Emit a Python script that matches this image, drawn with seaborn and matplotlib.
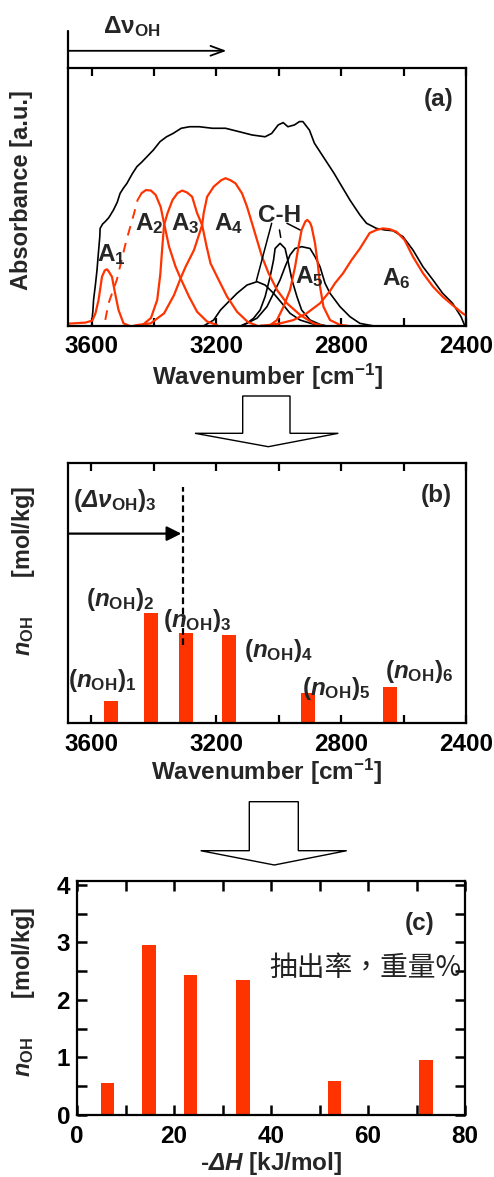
import numpy as np
import pandas as pd
import matplotlib
matplotlib.use("Agg")
import matplotlib.pyplot as plt
import matplotlib.transforms as mtransforms
from matplotlib.patches import Polygon
import seaborn as sns

# ---------------- data ----------------
# panel (a): measured spectrum (wavenumber, absorbance in axis fraction)
total_wn = [3600, 3596, 3594, 3588, 3583, 3578, 3574, 3573, 3565, 3557, 3545, 3530, 3518,
            3509, 3498, 3487, 3470, 3455, 3440, 3424, 3402, 3381, 3360, 3339, 3313, 3286,
            3255, 3213, 3171, 3128, 3086, 3044, 3023, 3002, 2986, 2971, 2950, 2934, 2923,
            2902, 2886, 2865, 2844, 2823, 2804, 2772, 2740, 2719, 2687, 2660, 2634, 2602,
            2570, 2538, 2506, 2475, 2443, 2416, 2405]
total_abs = [0.01, 0.06, 0.10, 0.16, 0.216, 0.29, 0.346, 0.378, 0.395, 0.404, 0.42, 0.45, 0.48,
             0.514, 0.535, 0.553, 0.59, 0.618, 0.635, 0.655, 0.683, 0.715, 0.734, 0.747, 0.767,
             0.773, 0.773, 0.767, 0.767, 0.754, 0.741, 0.734, 0.747, 0.780, 0.789, 0.773, 0.780,
             0.793, 0.793, 0.760, 0.709, 0.670, 0.631, 0.592, 0.553, 0.488, 0.43, 0.398, 0.378,
             0.372, 0.369, 0.346, 0.294, 0.229, 0.178, 0.126, 0.087, 0.035, 0.003]

# O-H component bands A1..A6
a1_wn = [3675, 3620, 3598, 3588, 3578, 3567, 3558, 3551, 3545, 3535, 3525, 3514, 3498, 3480]
a1_abs = [0.008, 0.012, 0.02, 0.048, 0.10, 0.19, 0.215, 0.219, 0.21, 0.19, 0.126, 0.061, 0.009, 0.0]
a2_wn = [3560, 3546, 3519, 3490, 3464, 3453, 3440, 3426, 3410, 3395, 3379, 3368, 3352, 3331,
         3315, 3288, 3262, 3230, 3198]
a2_abs = [0.0, 0.087, 0.18, 0.326, 0.437, 0.488, 0.515, 0.527, 0.525, 0.508, 0.462, 0.398, 0.307,
          0.229, 0.184, 0.113, 0.054, 0.016, 0.003]
a3_wn = [3440, 3410, 3390, 3380, 3374, 3368, 3357, 3341, 3325, 3310, 3295, 3278, 3262, 3246,
         3232, 3219, 3193, 3166, 3134, 3100, 3070]
a3_abs = [0.0, 0.03, 0.10, 0.2, 0.30, 0.391, 0.437, 0.488, 0.515, 0.525, 0.518, 0.501, 0.437,
          0.391, 0.31, 0.242, 0.178, 0.113, 0.054, 0.015, 0.0]
a4_wn = [3465, 3453, 3411, 3368, 3336, 3315, 3299, 3272, 3246, 3241, 3230, 3209, 3185, 3171,
         3155, 3139, 3118, 3102, 3086, 3070, 3054, 3033, 3006, 2974, 2932, 2889, 2860]
a4_abs = [0.0, 0.003, 0.009, 0.048, 0.119, 0.184, 0.229, 0.294, 0.391, 0.437, 0.501, 0.54, 0.565,
          0.573, 0.565, 0.553, 0.514, 0.462, 0.398, 0.333, 0.268, 0.204, 0.139, 0.087, 0.042,
          0.009, 0.0]
a5_wn = [3030, 3006, 2985, 2964, 2948, 2937, 2927, 2915, 2909, 2900, 2895, 2884, 2874, 2868,
         2857, 2836, 2804, 2780]
a5_abs = [0.0, 0.022, 0.074, 0.139, 0.229, 0.307, 0.372, 0.405, 0.411, 0.40, 0.385, 0.32, 0.229,
          0.152, 0.074, 0.022, 0.003, 0.0]
a6_wn = [3060, 3030, 2996, 2953, 2911, 2868, 2836, 2820, 2794, 2767, 2740, 2709, 2687, 2666,
         2645, 2623, 2597, 2570, 2538, 2506, 2475, 2443, 2411, 2400]
a6_abs = [0.0, 0.003, 0.009, 0.022, 0.048, 0.087, 0.135, 0.165, 0.204, 0.255, 0.30, 0.36, 0.372,
          0.378, 0.375, 0.365, 0.333, 0.268, 0.204, 0.152, 0.113, 0.080, 0.048, 0.04]

# C-H bands
ch1_wn = [3240, 3209, 3187, 3166, 3134, 3102, 3070, 3044, 3017, 2990, 2964, 2932, 2900, 2870]
ch1_abs = [0.0, 0.022, 0.061, 0.087, 0.126, 0.158, 0.171, 0.158, 0.126, 0.087, 0.048, 0.022,
           0.01, 0.0]
ch2_wn = [3120, 3102, 3081, 3060, 3044, 3028, 3017, 3012, 2996, 2980, 2969, 2958, 2942, 2927,
          2900, 2868, 2850]
ch2_abs = [0.0, 0.01, 0.029, 0.061, 0.113, 0.19, 0.255, 0.30, 0.32, 0.30, 0.242, 0.178, 0.113,
           0.061, 0.022, 0.005, 0.0]
ch3_wn = [3120, 3102, 3070, 3038, 3017, 2996, 2980, 2964, 2948, 2927, 2900, 2884, 2868, 2852,
          2836, 2804, 2772, 2740, 2700]
ch3_abs = [0.0, 0.01, 0.029, 0.074, 0.126, 0.178, 0.229, 0.275, 0.30, 0.307, 0.30, 0.268, 0.229,
           0.165, 0.126, 0.074, 0.035, 0.009, 0.0]

# panel (b): n_OH of each band vs wavenumber
band_labels = ["1", "2", "3", "4", "5", "6"]
wn_b = [3538, 3410, 3297, 3160, 2905, 2644]
nOH_b = [0.38, 1.92, 1.57, 1.53, 0.53, 0.63]

# panel (c): n_OH vs -dH
dH_c = [6.3, 14.8, 23.4, 34.2, 53.1, 71.9]
nOH_c = [0.55, 2.96, 2.43, 2.34, 0.59, 0.95]

wn_ticks = [3600, 3400, 3200, 3000, 2800, 2600, 2400]
wn_ticklabels = ["3600", "", "3200", "", "2800", "", "2400"]

# ---------------- style ----------------
sns.set_style("ticks")
RED = "#ff3300"
plt.rcParams.update({
    "font.family": ["Liberation Sans", "DejaVu Sans"],
    "font.weight": "bold",
    "axes.labelweight": "bold",
    "mathtext.fontset": "custom",
    "mathtext.rm": "Liberation Sans:bold",
    "mathtext.it": "Liberation Sans:italic:bold",
    "mathtext.bf": "Liberation Sans:bold",
    "mathtext.sf": "Liberation Sans:italic:bold",
    "axes.linewidth": 1.6,
    "axes.edgecolor": "black",
    "xtick.direction": "in",
    "ytick.direction": "in",
    "xtick.top": True,
    "ytick.right": True,
    "xtick.color": "black",
    "ytick.color": "black",
})

W, H = 494, 1177
fig = plt.figure(figsize=(W / 100, H / 100), dpi=100)


def fbox(l, t, r, b):
    return [l / W, 1 - b / H, (r - l) / W, (b - t) / H]


axA = fig.add_axes(fbox(68.3, 68.3, 466, 325.7))
axB = fig.add_axes(fbox(68, 462.7, 466, 723.3))
axC = fig.add_axes(fbox(77, 880.7, 465, 1115))

FS_TICK = 17.5
FS_LAB = 17.5
FS_YLAB = 16.8
FS_IN = 17.5
NOH_LABEL = r"$n_{\mathrm{OH}}$" + " " * 6 + "[mol/kg]"

# ---------------- panel (a) ----------------
sns.lineplot(x=total_wn, y=total_abs, ax=axA, color="black", lw=1.2, estimator=None)
for wn, ab in [(ch1_wn, ch1_abs), (ch2_wn, ch2_abs), (ch3_wn, ch3_abs)]:
    sns.lineplot(x=wn, y=ab, ax=axA, color="black", lw=1.2, estimator=None)
for wn, ab in [(a1_wn, a1_abs), (a3_wn, a3_abs), (a4_wn, a4_abs), (a5_wn, a5_abs), (a6_wn, a6_abs)]:
    sns.lineplot(x=wn, y=ab, ax=axA, color=RED, lw=1.6, estimator=None)
# A2: left flank drawn broken as in the original
sns.lineplot(x=a2_wn[:7], y=a2_abs[:7], ax=axA, color=RED, lw=1.4, estimator=None,
             linestyle=(0, (5, 4)))
sns.lineplot(x=a2_wn[6:], y=a2_abs[6:], ax=axA, color=RED, lw=1.6, estimator=None)

axA.set_xlim(3675, 2400)
axA.set_ylim(0, 1)
axA.set_yticks([])
axA.set_xticks(wn_ticks)
axA.set_xticklabels(wn_ticklabels, fontsize=FS_TICK, fontweight="bold")
axA.tick_params(axis="x", length=6, width=1.6, pad=7)
axA.set_xlabel(r"Wavenumber [cm$^{\mathrm{-1}}$]", fontsize=FS_LAB, fontweight="bold")
axA.xaxis.set_label_coords(0.5, -0.14)
axA.set_ylabel("Absorbance [a.u.]", fontsize=17, fontweight="bold")
axA.yaxis.set_label_coords(-0.089, 0.527)

for txt, x, y in [(r"$\mathrm{A}_1$", 3538, 0.275), (r"$\mathrm{A}_2$", 3416, 0.398),
                  (r"$\mathrm{A}_3$", 3299, 0.398), (r"$\mathrm{A}_4$", 3161, 0.398),
                  (r"$\mathrm{A}_5$", 2902, 0.19), (r"$\mathrm{A}_6$", 2625, 0.184)]:
    axA.text(x, y, txt, ha="center", va="center", fontsize=FS_IN)
axA.text(2998, 0.43, "C-H", ha="center", va="center", fontsize=FS_IN)
for (x0, y0), (x1, y1) in [((3023, 0.398), (3072, 0.175)),
                           ((2998, 0.372), (2994, 0.343)),
                           ((2974, 0.398), (2932, 0.372))]:
    axA.annotate("", xy=(x1, y1), xytext=(x0, y0),
                 arrowprops=dict(arrowstyle="-", lw=1.1, color="black", shrinkA=0, shrinkB=0))
axA.text(0.93, 0.877, "(a)", transform=axA.transAxes, ha="center", va="center", fontsize=FS_IN)

transA = mtransforms.blended_transform_factory(axA.transData, axA.transAxes)
axA.plot([3675, 3675], [1.0, 1.145], transform=transA, clip_on=False, color="black", lw=1.6)
axA.annotate("", xy=(3168, 1.068), xytext=(3675, 1.068), xycoords=transA, textcoords=transA,
             arrowprops=dict(arrowstyle="->,head_length=0.6,head_width=0.22", lw=1.3,
                             color="black", shrinkA=0, shrinkB=0, mutation_scale=16),
             annotation_clip=False)
axA.text(3563, 1.137, r"$\mathrm{Δν}_{\mathrm{OH}}$", transform=transA, ha="left",
         va="baseline", fontsize=FS_IN)

# ---------------- panel (b) ----------------
df_b = pd.DataFrame({"wn": wn_b, "n": nOH_b})
wb = 44.0 / np.min(np.diff(np.sort(wn_b)))
sns.barplot(data=df_b, x="wn", y="n", native_scale=True, orient="x", width=wb, color=RED,
            saturation=1, errorbar=None, linewidth=0, ax=axB)
axB.set_xlim(3675, 2400)
axB.set_ylim(0, 4.52)
axB.set_yticks([])
axB.set_xticks(wn_ticks)
axB.set_xticklabels(wn_ticklabels, fontsize=FS_TICK, fontweight="bold")
axB.tick_params(axis="x", length=6, width=1.6, pad=7)
axB.set_xlabel(r"Wavenumber [cm$^{\mathrm{-1}}$]", fontsize=FS_LAB, fontweight="bold")
axB.xaxis.set_label_coords(0.5, -0.13)
axB.set_ylabel(NOH_LABEL, fontsize=FS_YLAB, fontweight="bold")
axB.yaxis.set_label_coords(-0.077, 0.584)

axB.plot([3307, 3307], [1.36, 4.1], color="black", lw=1.6, ls=(0, (3, 1.6)))
axB.annotate("", xy=(3312, 3.29), xytext=(3675, 3.29),
             arrowprops=dict(arrowstyle="-|>", lw=1.6, color="black", shrinkA=0, shrinkB=0,
                             mutation_scale=22))
axB.text(3658, 3.75, r"$(\mathsf{Δν}_{\mathrm{OH}})_3$", ha="left", va="baseline", fontsize=FS_IN)
axB.text(0.926, 0.876, "(b)", transform=axB.transAxes, ha="center", va="center", fontsize=FS_IN)
for lab, x, y in zip(band_labels, [3566, 3508, 3262, 3001, 2816, 2549],
                     [0.75, 2.14, 1.79, 1.27, 0.61, 0.89]):
    axB.text(x, y, r"$(n_{\mathrm{OH}})_{%s}$" % lab, ha="center", va="center", fontsize=FS_IN)

# ---------------- panel (c) ----------------
df_c = pd.DataFrame({"dH": dH_c, "n": nOH_c})
wc = 2.8 / np.min(np.diff(np.sort(dH_c)))
sns.barplot(data=df_c, x="dH", y="n", native_scale=True, orient="x", width=wc, color=RED,
            saturation=1, errorbar=None, linewidth=0, ax=axC)
axC.set_xlim(0, 80)
axC.set_ylim(0, 4.07)
axC.set_xticks([0, 20, 40, 60, 80])
axC.set_xticks([10, 30, 50, 70], minor=True)
axC.set_yticks([0, 1, 2, 3, 4])
axC.set_yticks([0.5, 1.5, 2.5, 3.5], minor=True)
axC.tick_params(which="both", length=7, width=1.8)
axC.tick_params(axis="x", which="major", pad=7, labelsize=FS_TICK)
axC.tick_params(axis="y", which="major", pad=5, labelsize=FS_TICK)
for t in axC.get_xticklabels() + axC.get_yticklabels():
    t.set_fontweight("bold")
axC.set_xlabel(r"-$\mathsf{ΔH}$ [kJ/mol]", fontsize=FS_LAB, fontweight="bold")
axC.xaxis.set_label_coords(0.5, -0.15)
axC.set_ylabel(NOH_LABEL, fontsize=FS_YLAB, fontweight="bold")
axC.yaxis.set_label_coords(-0.102, 0.526)
axC.text(0.884, 0.818, "(c)", transform=axC.transAxes, ha="center", va="center", fontsize=FS_IN)
axC.text(0.99, 0.627, "抽出率，重量%", transform=axC.transAxes, ha="right", va="center",
         fontsize=20, fontweight="normal", color="#222222",
         family=["Noto Sans CJK TC", "DejaVu Sans"])

for ax in (axA, axB, axC):
    for s in ax.spines.values():
        s.set_visible(True)
        s.set_linewidth(1.6)
        s.set_color("black")

# ---------------- block arrows between panels ----------------
def block_arrow(xl, xr, ytop, ybot, hl, hr, tipx, tipy):
    pts = [(xl, ytop), (xr, ytop), (xr, ybot), (hr, ybot), (tipx, tipy), (hl, ybot), (xl, ybot)]
    pts = [(x / W, 1 - y / H) for x, y in pts]
    fig.add_artist(Polygon(pts, closed=True, facecolor="white", edgecolor="black", lw=1.0,
                           transform=fig.transFigure))


block_arrow(242.7, 290, 396, 433.3, 195, 338.3, 268.3, 446.7)
block_arrow(249.3, 298.3, 801.7, 850.7, 200.7, 346.7, 274.3, 865)

fig.savefig("out.png", dpi=100)
